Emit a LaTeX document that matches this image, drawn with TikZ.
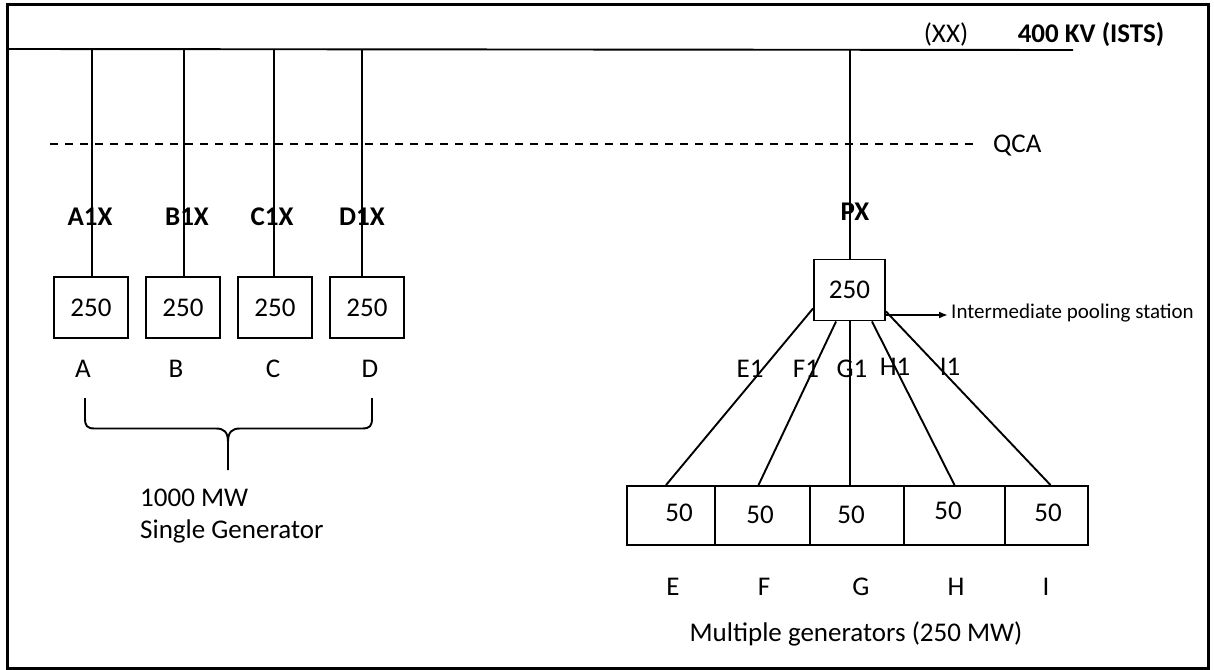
\documentclass[tikz,border=0pt]{standalone}
\usepackage{fontspec}
\setmainfont{Carlito}
\usetikzlibrary{arrows.meta}
\begin{document}
\begin{tikzpicture}[x=1pt,y=-1pt,
  wire/.style={line width=1.9pt},
  genbox/.style={draw,line width=1.9pt,minimum width=74pt,minimum height=61pt,inner sep=0pt,font=\fontsize{27}{32}\selectfont},
  cellbox/.style={draw,line width=1.9pt,minimum height=59pt,inner sep=0pt,font=\fontsize{27}{32}\selectfont},
  txt/.style={inner sep=0pt,anchor=base,font=\fontsize{27}{32}\selectfont},
  btxt/.style={txt,font=\fontsize{27}{32}\selectfont\bfseries},
  stxt/.style={inner sep=0pt,anchor=base west,font=\fontsize{21}{25}\selectfont}]
\useasboundingbox (0,0) rectangle (1214,669);
\draw[line width=3pt] (7,5) rectangle (1208,668);
% bus
\coordinate (busL) at (7,49);
\coordinate (busR) at (1073,50);
\draw[wire] (busL) -- (busR);
\node[txt] (xx) at (946,42) {(XX)};
\node[btxt] (kv) at (1091,42) {400 KV (ISTS)};
% QCA
\coordinate (qL) at (50,144);
\coordinate (qR) at (977,144);
\draw[line width=1.6pt,dash pattern=on 8pt off 7pt] (qL) -- (qR);
\node[txt,anchor=base west] (qca) at (993,152) {QCA};
% single generators
\node[genbox] (A) at (91,307.5) {250};
\node[genbox] (B) at (183,307.5) {250};
\node[genbox] (C) at (275,307.5) {250};
\node[genbox] (D) at (367,307.5) {250};
\node[btxt] (a1x) at (90,225) {A1X};
\node[btxt] (b1x) at (187,225) {B1X};
\node[btxt] (c1x) at (272,225) {C1X};
\node[btxt] (d1x) at (362,225) {D1X};
\foreach \n/\x in {A/92,B/184,C/274,D/362}{
  \coordinate (t\n) at (\x,49);
  \draw[wire] (t\n) -- (\n.north -| t\n);
}
\node[txt] (la) at (83,377) {A};
\node[txt] (lb) at (176,377) {B};
\node[txt] (lc) at (273,377) {C};
\node[txt] (ld) at (370,377) {D};
% brace
\coordinate (brL) at (85,398);
\coordinate (brR) at (372,398);
\coordinate (brT) at (228,470);
\draw[line width=1.9pt] (brL) -- (85,418) .. controls (85,426) and (87,428.5) .. (95,428.5)
  -- (216,428.5) .. controls (224,428.5) and (228,432) .. (228,442) -- (brT);
\draw[line width=1.9pt] (brR) -- (372,418) .. controls (372,426) and (370,428.5) .. (362,428.5)
  -- (240,428.5) .. controls (232,428.5) and (228,432) .. (228,442);
\node[txt,anchor=base west] (mw1) at (140,506) {1000 MW};
\node[txt,anchor=base west] (mw2) at (140,538) {Single Generator};
% pooling station
\node[genbox,minimum width=71pt] (P) at (849.5,290) {250};
\node[btxt] (px) at (855,220) {PX};
\coordinate (tP) at (850,50);
\draw[wire] (tP) -- (P.north -| tP);
\coordinate (arr) at (948,315);
\draw[wire,-{Latex[length=9pt,width=7pt]}] (P.east |- arr) -- (arr);
\node[stxt] (ips) at (951,318) {Intermediate pooling station};
% multiple generators
\node[cellbox,minimum width=88pt] (E) at (671,515.5) {};
\node[cellbox,minimum width=95pt] (F) at (762.5,515.5) {};
\node[cellbox,minimum width=94pt] (G) at (857,515.5) {};
\node[cellbox,minimum width=101pt] (H) at (954.5,515.5) {};
\node[cellbox,minimum width=83pt] (I) at (1046.5,515.5) {};
\node[font=\fontsize{27}{32}\selectfont] (e50) at (679,513) {50};
\node[font=\fontsize{27}{32}\selectfont] (f50) at (760,515) {50};
\node[font=\fontsize{27}{32}\selectfont] (g50) at (851,515) {50};
\node[font=\fontsize{27}{32}\selectfont] (h50) at (948,511) {50};
\node[font=\fontsize{27}{32}\selectfont] (i50) at (1048,513) {50};
\draw[wire] ([yshift=13pt]P.south west) -- ([xshift=-5pt]E.north);
\draw[wire] ([xshift=23pt]P.south west) -- ([xshift=-4pt]F.north);
\draw[wire] (P.south -| tP) -- (G.north -| tP);
\draw[wire] ([xshift=-14pt]P.south east) -- (H.north);
\draw[wire] ([yshift=10pt]P.south east) -- ([xshift=4pt]I.north);
\node[txt] (e1) at (750,377) {E1};
\node[txt] (f1) at (806,377) {F1};
\node[txt] (g1) at (852,377) {G1};
\node[txt] (h1) at (895,375) {H1};
\node[txt] (i1) at (950,375) {I1};
\node[txt] (le) at (673,595) {E};
\node[txt] (lf) at (764,595) {F};
\node[txt] (lg) at (861,595) {G};
\node[txt] (lh) at (956,595) {H};
\node[txt] (li) at (1046,595) {I};
\node[txt] (mg) at (856,641) {Multiple generators (250 MW)};
\end{tikzpicture}
\end{document}
